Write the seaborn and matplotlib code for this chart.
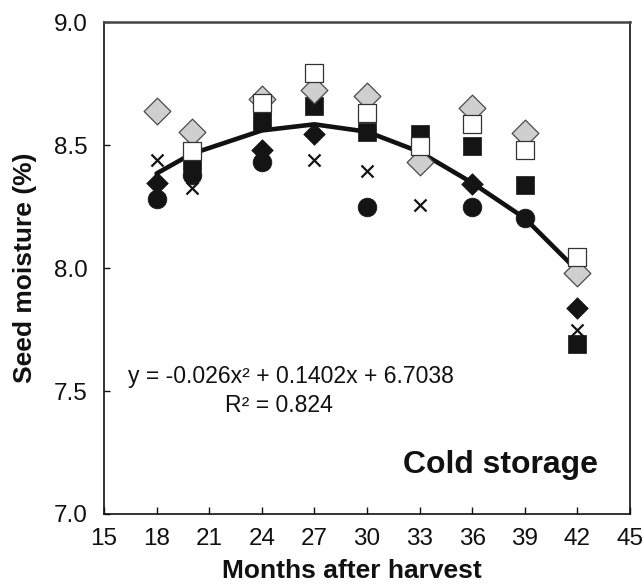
import numpy as np
import pandas as pd
import matplotlib
matplotlib.use("Agg")
import matplotlib.pyplot as plt
import seaborn as sns

# ---- data ----
months = [18, 20, 24, 27, 30, 33, 36, 39, 42]
grey_diamond = [8.64, 8.555, 8.69, 8.725, 8.70, 8.43, 8.65, 8.55, 7.98]
white_square = [np.nan, 8.477, 8.67, 8.795, 8.63, 8.496, 8.585, 8.48, 8.045]
black_square = [np.nan, 8.43, 8.60, 8.66, 8.555, 8.547, 8.497, 8.34, 7.69]
black_diamond = [8.347, np.nan, 8.48, 8.545, np.nan, np.nan, 8.344, np.nan, 7.836]
cross = [8.44, 8.324, np.nan, 8.44, 8.396, 8.256, np.nan, np.nan, 7.748]
black_circle = [8.28, 8.378, 8.43, np.nan, 8.25, np.nan, 8.247, 8.202, np.nan]
trend = [8.385, 8.465, 8.56, 8.585, 8.555, 8.473, 8.347, 8.203, 7.99]

x_ticks = [15, 18, 21, 24, 27, 30, 33, 36, 39, 42, 45]
y_ticks = [7.0, 7.5, 8.0, 8.5, 9.0]
equation = "y = -0.026x² + 0.1402x + 6.7038"
r2_text = "R² = 0.824"
panel_label = "Cold storage"

sns.set_style("ticks")
plt.rcParams["font.family"] = ["Liberation Sans", "DejaVu Sans"]

fig = plt.figure(figsize=(6.44, 5.85), dpi=100)
ax = fig.add_axes([104 / 644, 1 - 514 / 585, (630 - 104) / 644, (514 - 22.3) / 585])

df_trend = pd.DataFrame({"m": months, "v": trend})
sns.lineplot(data=df_trend, x="m", y="v", ax=ax, color="#111111", lw=3.3,
             solid_joinstyle="round", solid_capstyle="round", zorder=2)

def scat(vals, marker, size, face, edge, lw, z):
    d = pd.DataFrame({"m": months, "v": vals}).dropna()
    sns.scatterplot(data=d, x="m", y="v", ax=ax, marker=marker, s=size,
                    color=face, edgecolor=edge, linewidth=lw, zorder=z)

scat(black_circle, "o", 13.5 ** 2, "#141414", "#141414", 0.5, 3)
d = pd.DataFrame({"m": months, "v": cross}).dropna()
sns.scatterplot(data=d, x="m", y="v", ax=ax, marker="x", s=75, color="#141414",
                linewidth=1.6, zorder=4)
scat(black_diamond, "D", 11 ** 2, "#141414", "#141414", 0.5, 5)
scat(black_square, "s", 13.5 ** 2, "#141414", "#141414", 0.5, 6)
scat(grey_diamond, "D", 13.6 ** 2, "#cfcfcf", "#4a4a4a", 0.9, 7)
scat(white_square, "s", 13.5 ** 2, "white", "#333333", 0.9, 8)

ax.set_xlim(15, 45)
ax.set_ylim(7.0, 9.0)
ax.set_xticks(x_ticks)
ax.set_xticklabels([str(t) for t in x_ticks])
ax.set_yticks(y_ticks)
ax.set_yticklabels([f"{t:.1f}" for t in y_ticks])
ax.tick_params(axis="x", direction="in", length=5, width=1, labelsize=17.5, pad=10, colors="#111111")
ax.tick_params(axis="y", direction="in", length=4, width=1, labelsize=17.5, pad=12, colors="#111111")
for s in ax.spines.values():
    s.set_visible(True)
    s.set_color("#111111")
    s.set_linewidth(1.2)
ax.spines["top"].set_color("#444444")
ax.spines["top"].set_linewidth(1.8)

ax.set_xlabel("Months after harvest", fontsize=19, fontweight="bold", color="#111111")
ax.set_ylabel("Seed moisture (%)", fontsize=19, fontweight="bold", color="#111111")
ax.xaxis.set_label_coords((352 - 104) / 526, -(559 - 514) / 492)
ax.yaxis.set_label_coords(-(104 - 37) / 526, 0.5)

ax.text(16.37, 7.558, equation, fontsize=16.6, ha="left", va="center", color="#111111")
ax.text(21.9, 7.44, r2_text, fontsize=16.6, ha="left", va="center", color="#111111")
ax.text(43.18, 7.168, panel_label, fontsize=23, fontweight="bold", ha="right",
        va="baseline", color="#111111")

fig.savefig("out.png", dpi=100, facecolor="white")
